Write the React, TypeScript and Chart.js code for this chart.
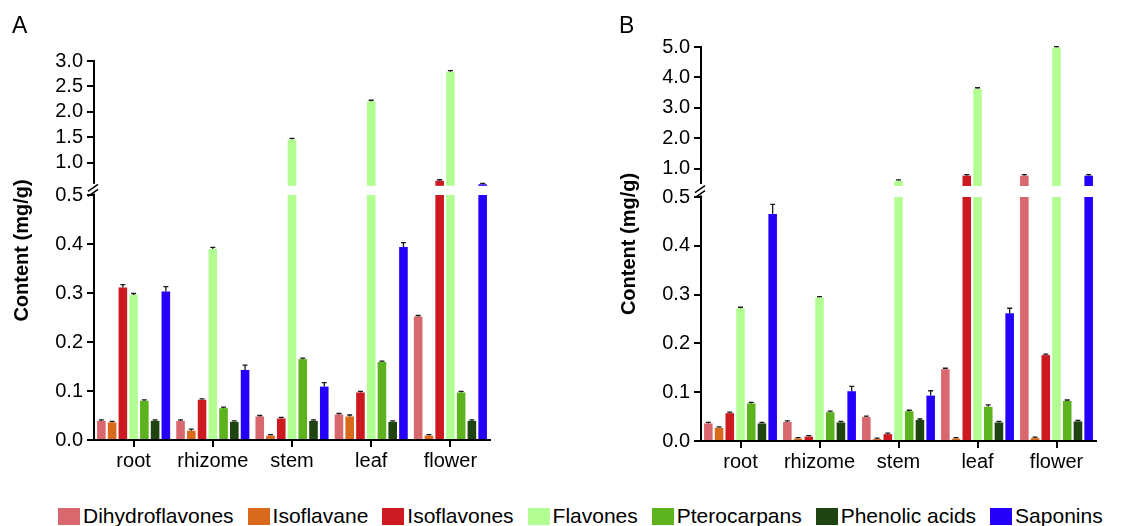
import React, { useEffect, useRef } from 'react';
import { Chart, registerables } from 'chart.js';

Chart.register(...registerables);

// ---------- data ----------
const categories = ['root', 'rhizome', 'stem', 'leaf', 'flower'];
const seriesNames = ['Dihydroflavones', 'Isoflavane', 'Isoflavones', 'Flavones', 'Pterocarpans', 'Phenolic acids', 'Saponins'];
const seriesColors = ['#D9686E', '#D96A1C', '#CC1A20', '#B3FE92', '#5DB31E', '#1D4411', '#2400FA'];

// Panel A (mg/g)
const aDihydroflavones = [0.039, 0.039, 0.048, 0.052, 0.252];
const aIsoflavane = [0.036, 0.019, 0.009, 0.048, 0.009];
const aIsoflavones = [0.311, 0.082, 0.044, 0.097, 0.65];
const aFlavones = [0.296, 0.39, 1.46, 2.21, 2.79];
const aPterocarpans = [0.08, 0.065, 0.165, 0.159, 0.097];
const aPhenolicAcids = [0.039, 0.037, 0.039, 0.037, 0.039];
const aSaponins = [0.303, 0.143, 0.109, 0.394, 0.58];

const aErrDihydroflavones = [0.002, 0.002, 0.002, 0.002, 0.002];
const aErrIsoflavane = [0.002, 0.003, 0.001, 0.003, 0.001];
const aErrIsoflavones = [0.006, 0.002, 0.002, 0.002, 0.01];
const aErrFlavones = [0.003, 0.003, 0.01, 0.01, 0.01];
const aErrPterocarpans = [0.002, 0.002, 0.002, 0.002, 0.002];
const aErrPhenolicAcids = [0.001, 0.001, 0.001, 0.001, 0.001];
const aErrSaponins = [0.01, 0.01, 0.008, 0.009, 0.005];

// Panel B (mg/g)
const bDihydroflavones = [0.036, 0.039, 0.049, 0.147, 0.78];
const bIsoflavane = [0.027, 0.005, 0.004, 0.005, 0.006];
const bIsoflavones = [0.057, 0.009, 0.014, 0.78, 0.176];
const bFlavones = [0.272, 0.294, 0.61, 3.63, 4.98];
const bPterocarpans = [0.077, 0.059, 0.061, 0.07, 0.082];
const bPhenolicAcids = [0.036, 0.038, 0.043, 0.038, 0.04];
const bSaponins = [0.465, 0.102, 0.093, 0.262, 0.78];

const bErrDihydroflavones = [0.002, 0.002, 0.002, 0.002, 0.01];
const bErrIsoflavane = [0.002, 0.001, 0.001, 0.001, 0.001];
const bErrIsoflavones = [0.002, 0.002, 0.002, 0.01, 0.002];
const bErrFlavones = [0.002, 0.002, 0.02, 0.02, 0.02];
const bErrPterocarpans = [0.002, 0.002, 0.002, 0.004, 0.002];
const bErrPhenolicAcids = [0.002, 0.002, 0.002, 0.002, 0.002];
const bErrSaponins = [0.02, 0.01, 0.01, 0.01, 0.01];

// axis ticks
const lowerTicks = [0, 0.1, 0.2, 0.3, 0.4, 0.5];
const aUpperTicks = [1.0, 1.5, 2.0, 2.5, 3.0];
const bUpperTicks = [1.0, 2.0, 3.0, 4.0, 5.0];

// ---------- panel configuration ----------
const panelA = {
  label: 'A',
  values: [aDihydroflavones, aIsoflavane, aIsoflavones, aFlavones, aPterocarpans, aPhenolicAcids, aSaponins],
  errors: [aErrDihydroflavones, aErrIsoflavane, aErrIsoflavones, aErrFlavones, aErrPterocarpans, aErrPhenolicAcids, aErrSaponins],
  lowMax: 0.5,
  highMin: 0.37,
  highMax: 3.0,
  upperBase: 0.55,
  upperTicks: aUpperTicks,
  lowWeight: 245,
  highWeight: 134,
  axisWidth: 94,
  padTop: 61,
  padRight: 76,
  xHeight: 40,
};

const panelB = {
  label: 'B',
  values: [bDihydroflavones, bIsoflavane, bIsoflavones, bFlavones, bPterocarpans, bPhenolicAcids, bSaponins],
  errors: [bErrDihydroflavones, bErrIsoflavane, bErrIsoflavones, bErrFlavones, bErrPterocarpans, bErrPhenolicAcids, bErrSaponins],
  lowMax: 0.5,
  highMin: 0.08,
  highMax: 5.0,
  upperBase: 0.44,
  upperTicks: bUpperTicks,
  lowWeight: 244,
  highWeight: 150,
  axisWidth: 135,
  padTop: 47,
  padRight: 36,
  xHeight: 39,
};

const FONT = '"Liberation Sans", Arial, Helvetica, sans-serif';

// ---------- plugins ----------
const errorBarPlugin = {
  id: 'errorBars',
  afterDatasetsDraw(chart: any) {
    const ctx = chart.ctx;
    ctx.save();
    ctx.strokeStyle = '#1a1a1a';
    ctx.lineWidth = 1.3;
    chart.data.datasets.forEach((ds: any, i: number) => {
      if (!ds.errs) return;
      const meta = chart.getDatasetMeta(i);
      const scale = chart.scales[meta.yAxisID];
      meta.data.forEach((el: any, j: number) => {
        if (ds.data[j] == null) return;
        const v = ds.vals[j];
        if (ds.part === 'low' && v > ds.lowMax) return;
        if (ds.part === 'high' && v <= ds.lowMax) return;
        const top = scale.getPixelForValue(v);
        const yE = Math.min(scale.getPixelForValue(v + ds.errs[j]), top - 1);
        ctx.beginPath();
        ctx.moveTo(el.x, top);
        ctx.lineTo(el.x, yE);
        ctx.moveTo(el.x - 2.5, yE);
        ctx.lineTo(el.x + 2.5, yE);
        ctx.stroke();
      });
    });
    ctx.restore();
  },
};

const decorPlugin = {
  id: 'panelDecor',
  afterDraw(chart: any, _args: any, opts: any) {
    const { ctx, chartArea } = chart;
    const yLow = chart.scales.yLow;
    const yHigh = chart.scales.yHigh;
    const L = chartArea.left;
    const gapTop = yHigh.getPixelForValue(opts.upperBase);
    const gapBottom = yLow.top;
    ctx.save();
    // break in the axis line
    ctx.fillStyle = '#ffffff';
    ctx.fillRect(L - 3, gapTop - 2, 6, gapBottom - 1.5 - (gapTop - 2));
    const c = (gapTop + gapBottom) / 2;
    ctx.strokeStyle = '#000';
    ctx.lineWidth = 1.5;
    for (const d of [-2.5, 2.5]) {
      ctx.beginPath();
      ctx.moveTo(L - 6, c + d + 3.5);
      ctx.lineTo(L + 4, c + d - 3.5);
      ctx.stroke();
    }
    // axis title
    ctx.fillStyle = '#000';
    ctx.translate(L - 72, (chartArea.top + chartArea.bottom) / 2);
    ctx.rotate(-Math.PI / 2);
    ctx.font = 'bold 20px ' + FONT;
    ctx.textAlign = 'center';
    ctx.textBaseline = 'middle';
    ctx.fillText(opts.title, 0, 0);
    ctx.restore();
    // panel label
    ctx.save();
    ctx.fillStyle = '#000';
    ctx.font = '23px ' + FONT;
    ctx.textAlign = 'left';
    ctx.textBaseline = 'top';
    ctx.fillText(opts.label, L - 82, 15);
    ctx.restore();
  },
};

function buildConfig(p: any): any {
  const datasets: any[] = [];
  seriesNames.forEach((name, s) => {
    const vals = p.values[s];
    datasets.push({
      label: name,
      stack: name,
      yAxisID: 'yLow',
      data: vals.map((v: number) => Math.min(v, p.lowMax)),
      backgroundColor: seriesColors[s],
      borderWidth: 0,
      vals,
      errs: p.errors[s],
      part: 'low',
      lowMax: p.lowMax,
    });
    datasets.push({
      label: name + ' (upper)',
      stack: name,
      yAxisID: 'yHigh',
      data: vals.map((v: number) => (v > p.lowMax ? [p.upperBase, v] : null)),
      backgroundColor: seriesColors[s],
      borderWidth: 0,
      vals,
      errs: p.errors[s],
      part: 'high',
      lowMax: p.lowMax,
    });
  });

  const tickFont = { family: FONT, size: 20 };
  const fixY = (scale: any) => {
    scale.width = p.axisWidth;
    scale.paddingTop = 0;
    scale.paddingBottom = 0;
  };
  const yCommon = {
    type: 'linear',
    position: 'left',
    stack: 'ystack',
    stacked: false,
    offset: false,
    grid: { drawOnChartArea: false, color: '#000', lineWidth: 2, tickLength: 7 },
    border: { display: true, color: '#000', width: 2 },
    ticks: {
      font: tickFont,
      color: '#000',
      padding: 4,
      autoSkip: false,
      callback: (v: any) => Number(v).toFixed(1),
    },
    afterFit: fixY,
  };

  return {
    type: 'bar',
    data: { labels: categories, datasets },
    options: {
      responsive: false,
      animation: false,
      devicePixelRatio: 1,
      layout: { padding: { top: p.padTop, right: p.padRight, left: 0, bottom: 0 } },
      datasets: { bar: { categoryPercentage: 0.95, barPercentage: 0.8 } },
      plugins: {
        legend: { display: false },
        tooltip: { enabled: false },
        panelDecor: { label: p.label, title: 'Content (mg/g)', upperBase: p.upperBase },
      },
      scales: {
        x: {
          type: 'category',
          offset: true,
          grid: { drawOnChartArea: false, offset: false, color: '#000', lineWidth: 2, tickLength: 7 },
          border: { display: true, color: '#000', width: 2 },
          ticks: { font: tickFont, color: '#000', padding: 2, autoSkip: false, maxRotation: 0 },
          afterFit: (scale: any) => {
            scale.height = p.xHeight;
            scale.paddingLeft = 0;
            scale.paddingRight = 0;
          },
        },
        yLow: {
          ...yCommon,
          stackWeight: p.lowWeight,
          min: 0,
          max: p.lowMax,
          afterBuildTicks: (scale: any) => {
            scale.ticks = lowerTicks.map((v) => ({ value: v }));
          },
        },
        yHigh: {
          ...yCommon,
          stackWeight: p.highWeight,
          min: p.highMin,
          max: p.highMax,
          afterBuildTicks: (scale: any) => {
            scale.ticks = p.upperTicks.map((v: number) => ({ value: v }));
          },
        },
      },
    },
    plugins: [errorBarPlugin, decorPlugin],
  };
}

function Panel({ panel, left }: { panel: any; left: number }) {
  const ref = useRef<HTMLCanvasElement | null>(null);
  useEffect(() => {
    if (!ref.current) return;
    const chart = new Chart(ref.current, buildConfig(panel));
    return () => chart.destroy();
  }, [panel]);
  return (
    <canvas
      ref={ref}
      width={566}
      height={480}
      style={{ position: 'absolute', left, top: 0, width: 566, height: 480 }}
    />
  );
}

export default function App() {
  return (
    <div style={{ position: 'fixed', left: 0, top: 0, width: 1132, height: 526, background: '#fff', overflow: 'hidden' }}>
      <Panel panel={panelA} left={0} />
      <Panel panel={panelB} left={566} />
      <div
        style={{
          position: 'absolute',
          left: 0,
          top: 504,
          width: 1132,
          paddingLeft: 58,
          boxSizing: 'border-box',
          display: 'flex',
          justifyContent: 'flex-start',
          gap: 14,
          fontFamily: FONT,
          fontSize: 21,
          lineHeight: '24px',
          color: '#000',
        }}
      >
        {seriesNames.map((name, i) => (
          <span key={name} style={{ display: 'flex', alignItems: 'center', whiteSpace: 'nowrap' }}>
            <span style={{ display: 'inline-block', width: 22, height: 17, background: seriesColors[i], marginRight: 3 }} />
            {name}
          </span>
        ))}
      </div>
    </div>
  );
}
